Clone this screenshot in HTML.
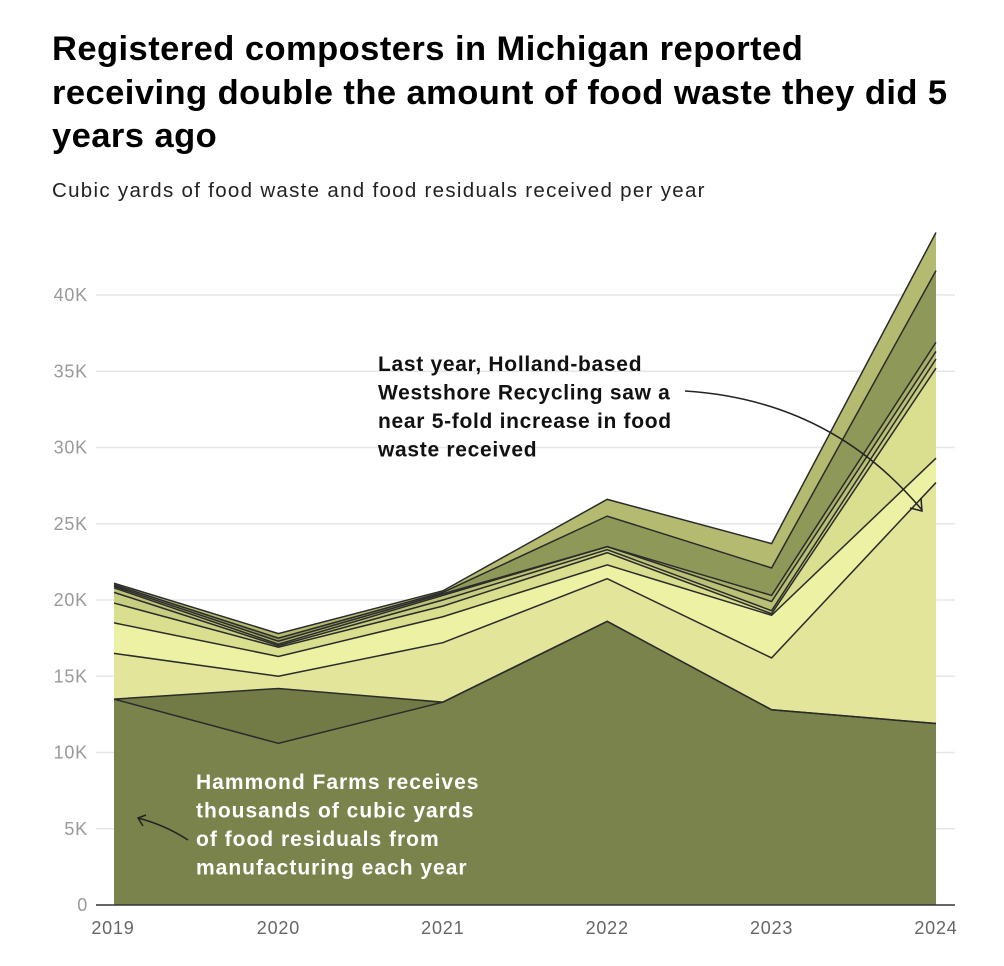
<!DOCTYPE html>
<html><head><meta charset="utf-8"><style>
body{margin:0;background:#fff;font-family:"Liberation Sans",Arial,sans-serif;}
#wrap{position:relative;width:1004px;height:966px;overflow:hidden;}
h1{position:absolute;left:52px;top:28px;margin:0;font-size:34.5px;line-height:43.5px;font-weight:bold;color:#000;white-space:nowrap;letter-spacing:0.45px}
.sub{position:absolute;left:52px;top:179px;font-size:20.5px;color:#222;letter-spacing:1.3px;white-space:nowrap}
svg{position:absolute;left:0;top:0}
</style></head><body>
<div id="wrap">
<h1>Registered composters in Michigan reported<br>receiving double the amount of food waste they did 5<br>years ago</h1>
<div class="sub">Cubic yards of food waste and food residuals received per year</div>
<svg id="chart" width="1004" height="966"></svg>
</div>
<script>
const years = [2019,2020,2021,2022,2023,2024];
const yTicks = [0,5000,10000,15000,20000,25000,30000,35000,40000];
const yTickLabels = ["0","5K","10K","15K","20K","25K","30K","35K","40K"];
const hammond = [13500,10600,13300,18600,12800,11900];
const layer2 = [0,3600,0,0,0,0];
const layer3 = [3000,800,3900,2800,3400,15800];
const layer4 = [2000,1300,1700,900,2800,1600];
const layer5 = [1300,600,700,800,100,5900];
const layer6 = [700,100,400,200,200,600];
const layer7 = [300,100,300,200,600,500];
const layer8 = [100,200,100,0,400,600];
const layer9 = [100,200,100,2000,1800,4700];
const westshore = [100,300,100,1100,1600,2500];
const series = [hammond,layer2,layer3,layer4,layer5,layer6,layer7,layer8,layer9,westshore];
const colors = ["#7b834d","#727a46","#e2e59a","#edf1a3","#d9df8f","#c8ce81","#bac176","#a6ae67","#8e9858","#b4ba70"];
const NS="http://www.w3.org/2000/svg";
const svg=document.getElementById('chart');
const x0=114,x1=936,yBase=905,pxPerUnit=610/40000;
const xs=i=>x0+(x1-x0)*i/(years.length-1);
const ys=v=>yBase-v*pxPerUnit;
function mk(t,a){const e=document.createElementNS(NS,t);for(const k in a)e.setAttribute(k,a[k]);svg.appendChild(e);return e;}
yTicks.forEach((t,i)=>{
  if(t>0){const g=mk('line',{x1:96,x2:955,y1:ys(t),y2:ys(t),stroke:'#e6e6e6','stroke-width':1.5});
  
  }
  const l=mk('text',{x:88,y:ys(t)+6,'text-anchor':'end','font-size':18,'letter-spacing':0.8,fill:'#999','font-family':'Liberation Sans, sans-serif'});
  l.textContent=yTickLabels[i];
  
  
});
let cum=years.map(()=>0);
const tops=[];
series.forEach((s,si)=>{
  const lo=cum.slice();cum=cum.map((c,i)=>c+s[i]);tops.push(cum.slice());
  let d='M'+years.map((_,i)=>xs(i)+','+ys(cum[i])).join(' L');
  for(let i=years.length-1;i>=0;i--)d+=' L'+xs(i)+','+ys(lo[i]);
  const p=mk('path',{d:d+'Z',fill:colors[si],stroke:'none'});
  
  
});
tops.forEach((t,si)=>{
  const p=mk('polyline',{points:years.map((_,i)=>xs(i)+','+ys(t[i])).join(' '),fill:'none',stroke:'#2b2b2b','stroke-width':1.5});
  
  
});
const ax=mk('line',{x1:96,x2:955,y1:yBase,y2:yBase,stroke:'#333','stroke-width':1.5});


years.forEach((yr,i)=>{
  const l=mk('text',{x:xs(i)+(i==0?-1:0),y:934,'text-anchor':'middle','font-size':18,'letter-spacing':0.8,fill:'#666','font-family':'Liberation Sans, sans-serif'});
  l.textContent=yr;
  
  
});
function txt(lines,x,y,col,name,ls){
  lines.forEach((s,i)=>{const t=mk('text',{x:x,y:y+i*28.5,'font-size':21,'letter-spacing':ls,'font-weight':'bold',fill:col,'font-family':'Liberation Sans, sans-serif'});
  t.textContent=s;
  
  });
}
txt(["Last year, Holland-based","Westshore Recycling saw a","near 5-fold increase in food","waste received"],378,371,'#111','westshore-annotation',0.7);
txt(["Hammond Farms receives","thousands of cubic yards","of food residuals from","manufacturing each year"],196,789,'#fff','hammond-annotation',1.0);
const a1=mk('path',{d:'M685,391 Q830,400 922,510 M910,508 L922,511 L921,498',fill:'none',stroke:'#222','stroke-width':1.5});


const a2=mk('path',{d:'M188,840 Q165,825 138,818 M146,815 L138,818 L143,826',fill:'none',stroke:'#222','stroke-width':1.5});


</script>
</body></html>
